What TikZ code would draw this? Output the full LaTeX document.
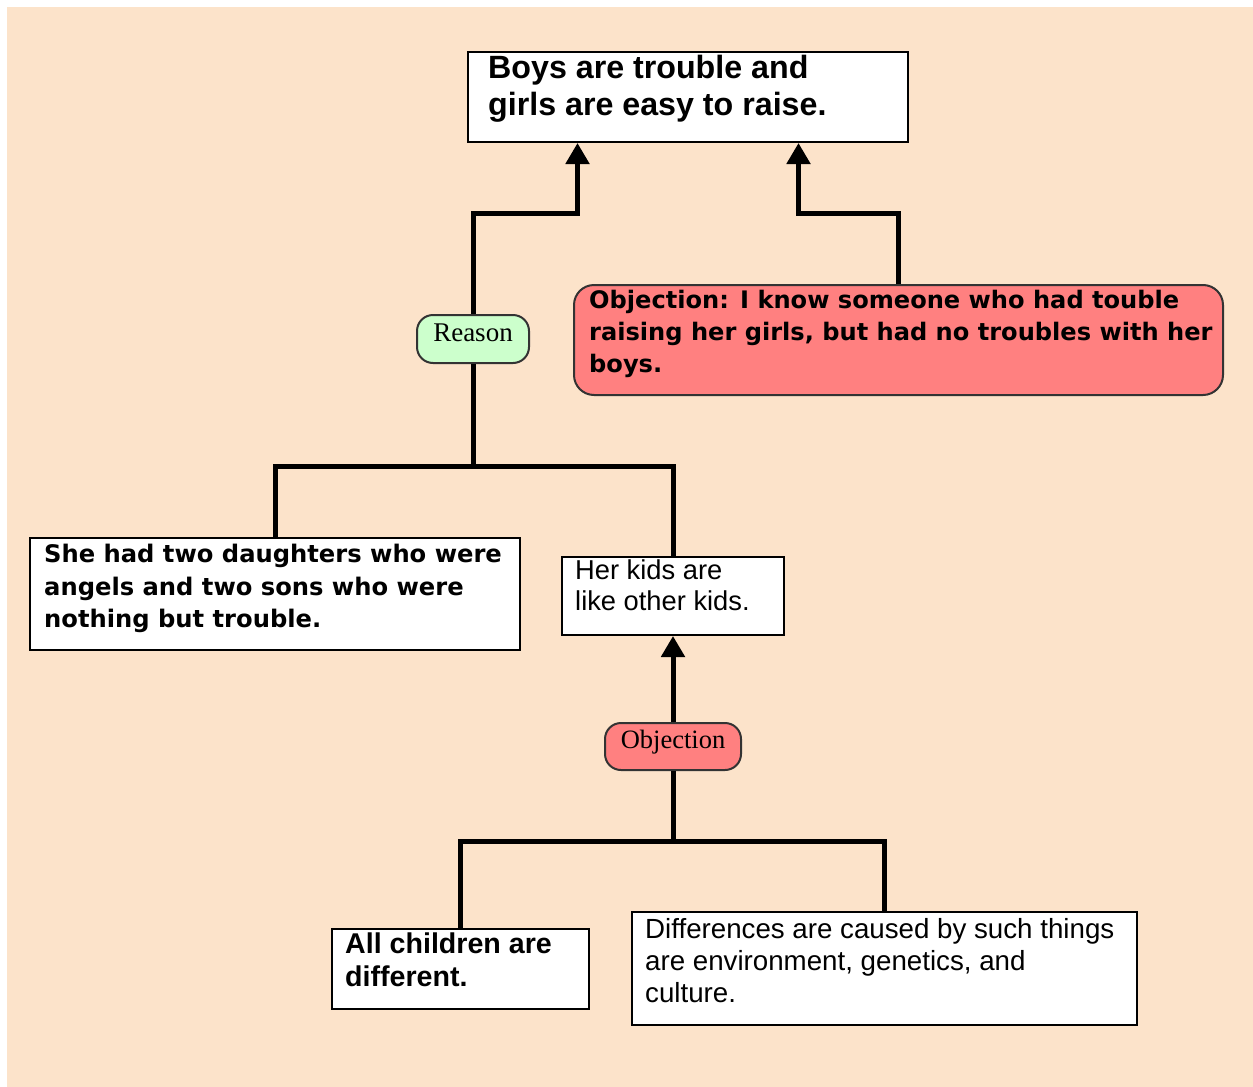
\documentclass[tikz,border=0pt]{standalone}
\usepackage{fontspec}
\setmainfont{Liberation Sans}
\newfontfamily\widesans{DejaVu Sans}
\newfontfamily\tmsserif{Liberation Serif}
\usetikzlibrary{arrows.meta,calc}

\definecolor{paper}{RGB}{252,227,202}
\definecolor{objred}{RGB}{255,128,128}
\definecolor{reasongreen}{RGB}{204,255,204}

\begin{document}
\begin{tikzpicture}[x=1pt,y=-1pt,
  conn/.style={draw=black, line width=5pt, line join=miter},
  tip/.style={-{Triangle[width=23pt,length=21pt]}},
  card/.style={draw=black, line width=2pt, fill=white, inner sep=0pt, anchor=north west},
  bubble/.style={draw=black!80, line width=2pt, rounded corners=16pt, inner sep=0pt, anchor=north west},
  txt/.style={anchor=north west, align=left, inner sep=0pt},
]
% page and background
\useasboundingbox (0,0) rectangle (1253,1087);
\fill[white] (0,0) rectangle (1253,1087);
\fill[paper] (7,7) rectangle (1253,1087);

% boxes
\node[card, minimum width=440, minimum height=90] (claim) at (467,51) {};
\node[txt, font=\fontsize{32.2}{37}\selectfont\bfseries] at ($(claim.north west)+(21,4)$)
  {Boys are trouble and\\girls are easy to raise.};

\node[bubble, fill=objred, minimum width=649, minimum height=110, rounded corners=20pt] (obj) at (573,284) {};
\node[txt, font=\widesans\fontsize{24.1}{32}\selectfont\bfseries] at ($(obj.north west)+(16,6)$)
  {Objection: I know someone who had touble\\raising her girls, but had no troubles with her\\boys.};

\node[bubble, fill=reasongreen, minimum width=112, minimum height=48,
      font=\tmsserif\fontsize{27}{30}\selectfont] (reason) at (416,314) {\raisebox{-2pt}[0pt][0pt]{Reason}};

\node[card, minimum width=490, minimum height=112] (twin) at (29,537) {};
\node[txt, font=\widesans\fontsize{24.2}{32.5}\selectfont\bfseries] at ($(twin.north west)+(15,7)$)
  {She had two daughters who were\\angels and two sons who were\\nothing but trouble.};

\node[card, minimum width=222, minimum height=78] (kids) at (561,556) {};
\node[txt, font=\fontsize{27.3}{31}\selectfont] at ($(kids.north west)+(14,4)$)
  {Her kids are\\like other kids.};

\node[bubble, fill=objred, minimum width=136, minimum height=47,
      font=\tmsserif\fontsize{26.5}{30}\selectfont] (objlbl) at (604,722) {\raisebox{-2pt}[0pt][0pt]{Objection}};

\node[card, minimum width=257, minimum height=80] (diff1) at (331,928) {};
\node[txt, font=\fontsize{28.6}{33}\selectfont\bfseries] at ($(diff1.north west)+(14,5)$)
  {All children are\\different.};

\node[card, minimum width=505, minimum height=113] (cause) at (631,911) {};
\node[txt, font=\fontsize{27.7}{32}\selectfont] at ($(cause.north west)+(14,7)$)
  {Differences are caused by such things\\are environment, genetics, and\\culture.};

% junction levels
\coordinate (j1) at (0,213);
\coordinate (j2) at (0,466);
\coordinate (j3) at (0,841);
\coordinate (ta) at ($(claim.south west)!0.25!(claim.south east)$);
\coordinate (tb) at ($(claim.south west)!0.75!(claim.south east)$);

% connectors
\draw[conn, tip] (reason.north) -- (reason.north |- j1) -| (ta);
\draw[conn, tip] (obj.north) -- (obj.north |- j1) -| (tb);
\draw[conn] (reason.south) -- (reason.south |- j2);
\draw[conn] (twin.north) -- (twin.north |- j2) -- (kids.north |- j2) -- (kids.north);
\draw[conn, tip] (objlbl.north) -- (kids.south);
\draw[conn] (objlbl.south) -- (objlbl.south |- j3);
\draw[conn] (diff1.north) -- (diff1.north |- j3) -- (cause.north |- j3) -- (cause.north);
\end{tikzpicture}
\end{document}
